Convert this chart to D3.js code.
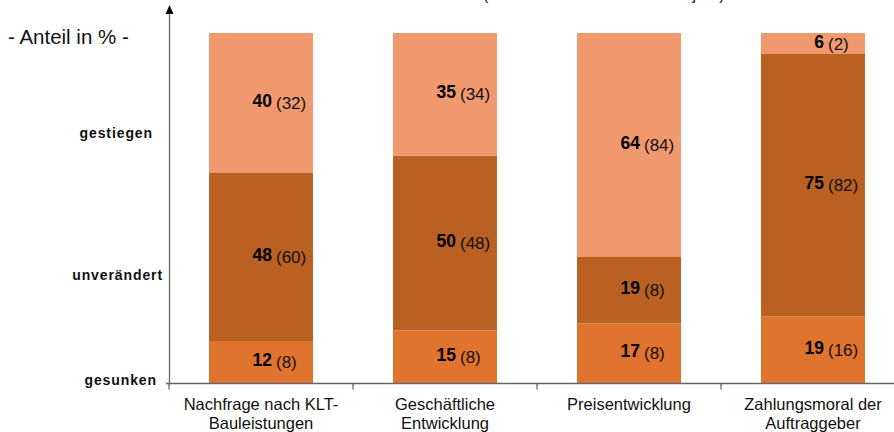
<!DOCTYPE html>
<html>
<head>
<meta charset="utf-8">
<script src="https://cdn.jsdelivr.net/npm/d3@7"></script>
<style>
  body { margin: 0; background: #fff; }
  svg text { font-family: "Liberation Sans", Arial, sans-serif; }
</style>
</head>
<body>
<div id="chart"></div>
<script>
// categories (two lines each)
var categories = ["Nachfrage nach KLT-|Bauleistungen", "Geschäftliche|Entwicklung", "Preisentwicklung", "Zahlungsmoral der|Auftraggeber"];
var seriesKeys = ["gesunken", "unveraendert", "gestiegen"];
var gesunken = [12, 15, 17, 19];
var unveraendert = [48, 50, 19, 75];
var gestiegen = [40, 35, 64, 6];
var prevGesunken = [8, 8, 8, 16];
var prevUnveraendert = [60, 48, 8, 82];
var prevGestiegen = [32, 34, 84, 2];
var yLabels = ["gestiegen", "unverändert", "gesunken"];

var colors = { gesunken: "#e0732d", unveraendert: "#b96022", gestiegen: "#f0996f" };
var prevByKey = { gesunken: prevGesunken, unveraendert: prevUnveraendert, gestiegen: prevGestiegen };

var width = 894, height = 432;
var svg = d3.select("#chart").append("svg").attr("width", width).attr("height", height);

var rows = categories.map(function(c, i) {
  return { cat: c, i: i, gesunken: gesunken[i], unveraendert: unveraendert[i], gestiegen: gestiegen[i] };
});

var x = d3.scaleBand().domain(categories).range([169, 905]).paddingInner(0.435).paddingOuter(0.2175);
var y = d3.scaleLinear().domain([0, 100]).range([383, 33]);

var stack = d3.stack().keys(seriesKeys)(rows);

// bars
var layer = svg.selectAll(".layer").data(stack).enter().append("g").attr("class", "layer")
  .attr("fill", function(d) { return colors[d.key]; });
layer.selectAll("rect").data(function(d) { return d; }).enter().append("rect")
  .attr("x", function(d) { return x(d.data.cat); })
  .attr("y", function(d) { return y(d[1]); })
  .attr("width", x.bandwidth())
  .attr("height", function(d) { return y(d[0]) - y(d[1]); });

// value labels
stack.forEach(function(s) {
  s.forEach(function(d) {
    var cx = x(d.data.cat) + x.bandwidth() / 2;
    var cy = (y(d[0]) + y(d[1])) / 2 + 6;
    var g = svg.append("g");
    g.append("text").attr("x", cx + 11).attr("y", cy - 2).attr("text-anchor", "end")
      .attr("font-size", 17.5).attr("font-weight", "bold").attr("fill", "#000")
      .text(d.data[s.key]);
    g.append("text").attr("x", cx + 15).attr("y", cy).attr("font-size", 17).attr("fill", "#111")
      .text("(" + prevByKey[s.key][d.data.i] + ")");
  });
});

// axes
var axisColor = "#666";
svg.append("line").attr("x1", 169.5).attr("x2", 169.5).attr("y1", 12).attr("y2", 384)
  .attr("stroke", axisColor).attr("stroke-width", 1.3);
svg.append("path").attr("d", "M169.5,5 L165.5,14 L173.5,14 Z").attr("fill", "#000");

var xAxis = svg.append("g").attr("transform", "translate(0,383.5)");
xAxis.append("line").attr("x1", 166).attr("x2", width).attr("stroke", axisColor).attr("stroke-width", 1.3);
var ticks = [169].concat(categories.slice(1).map(function(c) { return x(c) - x.step() * x.paddingInner() / 2; }));
xAxis.selectAll(".tick").data(ticks).enter().append("line")
  .attr("x1", function(d) { return d; }).attr("x2", function(d) { return d; })
  .attr("y1", 0).attr("y2", 6).attr("stroke", axisColor).attr("stroke-width", 1.3);

// category labels
categories.forEach(function(c) {
  var cx = x(c) + x.bandwidth() / 2;
  c.split("|").forEach(function(line, j) {
    svg.append("text").attr("x", cx).attr("y", 410 + j * 19).attr("text-anchor", "middle")
      .attr("font-size", 16.5).attr("fill", "#111").text(line);
  });
});

// y-side labels
var yLabelPos = d3.scalePoint().domain(yLabels).range([138, 385]);
var yLabelRight = { "gestiegen": 153, "unverändert": 163, "gesunken": 157 };
yLabels.forEach(function(l) {
  svg.append("text").attr("x", yLabelRight[l]).attr("y", yLabelPos(l))
    .attr("text-anchor", "end").attr("font-size", 14).attr("font-weight", "bold")
    .attr("letter-spacing", 0.9).attr("fill", "#111").text(l);
});
// middle label sits a bit higher than halfway
svg.selectAll("text").filter(function() { return d3.select(this).text() === "unverändert"; })
  .attr("y", 280);

svg.append("text").attr("x", 8).attr("y", 44).attr("font-size", 20.5).attr("fill", "#111")
  .text("- Anteil in % -");

// title (cut off at the top edge, as in the source)
svg.append("text").attr("x", 483).attr("y", 0).attr("font-size", 16).attr("fill", "#111")
  .text("(in Klammern: Werte vom Vorjahr)");
</script>
</body>
</html>
